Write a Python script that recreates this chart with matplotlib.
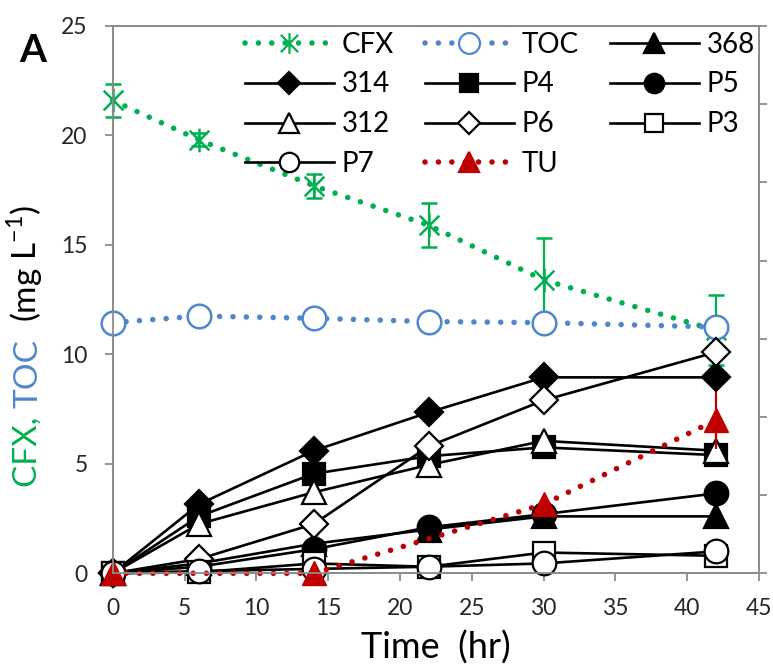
import matplotlib
matplotlib.use('Agg')
import matplotlib.pyplot as plt
from matplotlib.path import Path
from matplotlib.lines import Line2D

plt.rcParams['font.family'] = ['Lato', 'DejaVu Sans']
plt.rcParams['mathtext.fontset'] = 'custom'
plt.rcParams['mathtext.rm'] = 'Lato'

# data
t = [0, 6, 14, 22, 30, 42]
cfx = [21.6, 19.8, 17.7, 15.9, 13.4, 11.1]
cfx_err = [0.75, 0.3, 0.55, 1.0, 1.9, 1.6]
toc = [11.45, 11.75, 11.65, 11.5, 11.45, 11.25]
s368 = [0, 0.45, 1.35, 2.0, 2.6, 2.6]
s314 = [0, 3.15, 5.6, 7.35, 8.95, 8.95]
p4 = [0, 2.6, 4.55, 5.35, 5.75, 5.4]
p5 = [0, 0.3, 1.1, 2.1, 2.7, 3.65]
s312 = [0, 2.25, 3.7, 4.95, 6.05, 5.6]
p6 = [0, 0.65, 2.25, 5.8, 7.9, 10.1]
p3 = [0, 0.05, 0.45, 0.3, 0.95, 0.8]
p7 = [0, 0.1, 0.2, 0.3, 0.45, 1.0]
t_tu = [0, 14, 30, 42]
tu = [0, 0, 3.15, 7.0]
tu_err = [0, 0, 0.2, 1.3]

green = '#00B050'
blue = '#4F87CC'
red = '#C00000'
grey = '#8C8C8C'

# Excel style star: an X with a vertical bar through it
star = Path([(-0.5, -0.5), (0.5, 0.5), (-0.5, 0.5), (0.5, -0.5), (0, -0.6), (0, 0.6)],
            [Path.MOVETO, Path.LINETO, Path.MOVETO, Path.LINETO, Path.MOVETO, Path.LINETO])

dots = (0, (0.01, 2.4))

W, H = 773, 672
fig = plt.figure(figsize=(W / 100, H / 100), dpi=100)
ax = fig.add_axes([112.7 / W, 1 - 573.3 / H, (759 - 112.7) / W, (573.3 - 26) / H])

ax.errorbar(t, cfx, yerr=cfx_err, color=green, lw=4, linestyle=dots, dash_capstyle='round',
            marker=star, ms=17, mew=1.8, mfc='none', mec=green,
            ecolor=green, elinewidth=1.6, capsize=6, capthick=1.6, clip_on=False, zorder=3)
ax.plot(t, toc, color=blue, lw=4, linestyle=dots, dash_capstyle='round',
        marker='o', ms=17, mew=1.8, mfc='white', mec=blue, clip_on=False, zorder=3.5)

black_series = [
    (s368, '^', 'black', 17),
    (s314, 'D', 'black', 14),
    (p4, 's', 'black', 16),
    (p5, 'o', 'black', 17),
    (s312, '^', 'white', 17),
    (p6, 'D', 'white', 14),
    (p3, 's', 'white', 16),
    (p7, 'o', 'white', 17),
]
for vals, mk, fc, ms in black_series:
    ax.plot(t, vals, color='black', lw=1.9, marker=mk, ms=ms, mfc=fc, mec='black',
            mew=1.6, clip_on=False, zorder=4)

ax.errorbar(t_tu, tu, yerr=tu_err, color=red, lw=4, linestyle=dots, dash_capstyle='round',
            marker='^', ms=17, mfc=red, mec=red, ecolor=red, elinewidth=1.6, capsize=0,
            clip_on=False, zorder=5)

ax.set_xlim(0, 45)
ax.set_ylim(0, 25)
ax.set_xticks(range(0, 50, 5))
ax.set_yticks(range(0, 30, 5))
for s in ax.spines.values():
    s.set_color(grey)
    s.set_linewidth(1.3)
ax.tick_params(direction='out', length=6, width=1.3, color=grey, labelsize=16.5,
               labelcolor='#262626', pad=12)

ax2 = ax.twinx()
ax2.set_ylim(0, 7)
ax2.set_yticks(range(0, 8))
ax2.tick_params(direction='out', length=6, width=1.3, color=grey, labelright=False)
for s in ax2.spines.values():
    s.set_color(grey)
    s.set_linewidth(1.3)

ax.set_xlabel('Time  (hr)', fontsize=26, labelpad=8)

# legend laid out row by row like the original
def h(color, ls, mk, fc, ms, lw):
    return Line2D([], [], color=color, linestyle=ls, lw=lw, dash_capstyle='round',
                  marker=mk, ms=ms, mfc=fc, mec=color, mew=1.6)

handles = {
    'CFX': h(green, dots, star, 'none', 15, 4),
    'TOC': h(blue, dots, 'o', 'white', 15, 4),
    '368': h('black', '-', '^', 'black', 14, 1.9),
    '314': h('black', '-', 'D', 'black', 11, 1.9),
    'P4': h('black', '-', 's', 'black', 13, 1.9),
    'P5': h('black', '-', 'o', 'black', 14, 1.9),
    '312': h('black', '-', '^', 'white', 14, 1.9),
    'P6': h('black', '-', 'D', 'white', 11, 1.9),
    'P3': h('black', '-', 's', 'white', 13, 1.9),
    'P7': h('black', '-', 'o', 'white', 14, 1.9),
    'TU': h(red, dots, '^', red, 14, 4),
}
order = ['CFX', '314', '312', 'P7', 'TOC', 'P4', 'P6', 'TU', '368', 'P5', 'P3']
ax.legend([handles[k] for k in order], order, ncol=3, loc='upper left',
          bbox_to_anchor=(0.2, 0.995), frameon=False, fontsize=20, handlelength=3.2,
          handletextpad=0.3, columnspacing=1.1, labelspacing=0.5, borderpad=0.1,
          borderaxespad=0)

fig.text(33 / W, 1 - 50 / H, 'A', fontsize=28, fontweight='bold', ha='center', va='center')

# y label in three colours, stacked bottom to top
fig.canvas.draw()
r = fig.canvas.get_renderer()
y0 = H - 487
for txt, c in [('CFX, ', green), ('TOC', blue), ('  (mg L$^{\\mathregular{-1}}$)', 'black')]:
    tt = fig.text(37 / W, y0 / H, txt, color=c, fontsize=24, rotation=90,
                  rotation_mode='anchor', ha='left', va='baseline')
    y0 += tt.get_window_extent(r).height

fig.savefig('out.png', dpi=100)
